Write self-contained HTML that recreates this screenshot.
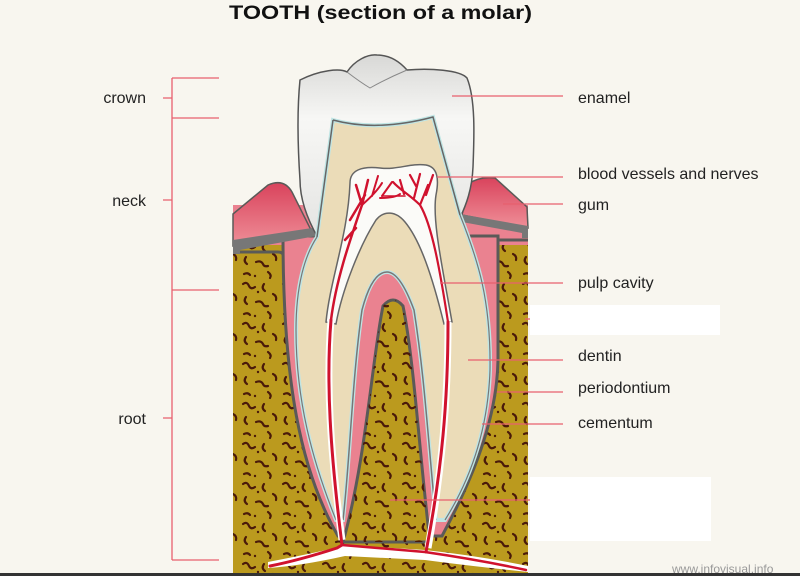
<!DOCTYPE html>
<html><head><meta charset="utf-8">
<style>
html,body{margin:0;padding:0;background:#f8f6ef;}
svg{display:block;}
text{font-family:"Liberation Sans",Arial,sans-serif;}
</style></head>
<body>
<svg width="800" height="576" viewBox="0 0 800 576" xmlns="http://www.w3.org/2000/svg">
<defs>
<pattern id="sq" x="0" y="0" width="40" height="40" patternUnits="userSpaceOnUse">
<g fill="none" stroke="#4a1a0a" stroke-width="2.2" stroke-linecap="round">
<path d="M3,4 q4,-3 6,2 q2,4 6,1"/>
<path d="M24,4 q-3,4 1,7"/>
<path d="M33,14 q4,2 3,6"/>
<path d="M6,17 q-3,4 1,7"/>
<path d="M16,22 q5,-2 7,2 q1,3 5,2"/>
<path d="M4,34 q4,-2 6,1"/>
<path d="M28,32 q4,3 2,6"/>
</g>
<circle cx="18" cy="12" r="1.2" fill="#4a1a0a"/>
<circle cx="15" cy="36" r="1.2" fill="#4a1a0a"/>
</pattern>
<linearGradient id="en" x1="0" y1="0" x2="0" y2="1">
<stop offset="0" stop-color="#d8d8d6"/><stop offset="0.35" stop-color="#f7f7f5"/><stop offset="1" stop-color="#e4e4e2"/>
</linearGradient>
<linearGradient id="gm" x1="0" y1="0" x2="0" y2="1">
<stop offset="0" stop-color="#d9435c"/><stop offset="1" stop-color="#ef8f98"/>
</linearGradient>
</defs>

<rect width="800" height="576" fill="#f8f6ef"/>

<text x="229" y="19" font-size="19" font-weight="bold" fill="#111" textLength="303" lengthAdjust="spacingAndGlyphs">TOOTH (section of a molar)</text>

<g stroke="#e8606e" stroke-width="1.3" fill="none">
<path d="M172,78 V560"/>
<path d="M172,78 H219 M172,118 H219 M172,290 H219 M172,560 H219"/>
<path d="M163,98 H172 M163,200 H172 M163,418 H172"/>
</g>
<text x="146" y="103" font-size="16" fill="#222" text-anchor="end">crown</text>
<text x="146" y="206" font-size="16" fill="#222" text-anchor="end">neck</text>
<text x="146" y="424" font-size="16" fill="#222" text-anchor="end">root</text>

<rect x="233" y="205" width="295" height="60" fill="#ea8290"/>
<rect x="233" y="245" width="295" height="330" fill="#bb9a1e"/>
<rect x="233" y="245" width="295" height="330" fill="url(#sq)"/>
<path d="M233,252 H278 Q284,252 284,258 M528,240 H490 Q484,240 484,246" fill="none" stroke="#5a5a58" stroke-width="3"/>
<path d="M283,236 C283,380 300,470 338,536 L442,536 C472,480 497,420 498,360 L498,236 Z" fill="#ea8290" stroke="#5a5a58" stroke-width="3"/>
<path d="M343,542 C366,460 372,360 383,306 Q393,294 403,306 C414,360 420,460 430,542 Z" fill="#bb9a1e" stroke="#5a5a58" stroke-width="3"/>
<path d="M343,542 C366,460 372,360 383,306 Q393,294 403,306 C414,360 420,460 430,542 Z" fill="url(#sq)"/>

<path d="M233,214 L268,185 Q284,178 292,192 L312,232 L233,246 Z" fill="url(#gm)" stroke="#5a5a58" stroke-width="1.5"/>
<path d="M233,240 L312,228 L316,236 L240,250 L240,254 L233,254 Z" fill="#777" />
<path d="M462,215 L468,184 Q480,176 495,178 L527,207 L528,228 Z" fill="url(#gm)" stroke="#5a5a58" stroke-width="1.5"/>
<path d="M460,214 L528,226 L528,238 L522,238 L522,233 L462,222 Z" fill="#777"/>

<path d="M300,80 C320,70 340,68 347,72 C355,60 368,54 377,55 C390,55 400,62 407,70 C430,68 460,70 467,78 C476,100 474,140 473,167 C472,190 466,205 460,218 L318,238 C305,215 300,195 300,180 C298,150 297,110 300,80 Z" fill="url(#en)" stroke="#555" stroke-width="1.5"/>
<path d="M347,72 Q360,82 370,88 Q388,78 407,70" fill="none" stroke="#888" stroke-width="1"/>

<path d="M333,120 Q377,132 433,117 L460,215 C478,260 491,300 490,370 C488,430 470,480 445,520 L436,520 C428,440 425,380 414,310 Q400,272 387,272 Q372,272 362,310 C352,380 350,460 343,520 L336,520 C312,460 296,400 296,330 C296,285 305,255 317,237 Z" fill="#ebdcb8" stroke="#bfe5e4" stroke-width="4"/>
<path d="M333,120 Q377,132 433,117 L460,215 M317,237 L333,120" fill="none" stroke="#666" stroke-width="1.5"/>
<path d="M336,520 C312,460 296,400 296,330 C296,285 305,255 317,237 M460,215 C478,260 491,300 490,370 C488,430 470,480 445,520" fill="none" stroke="#777" stroke-width="1.2"/>
<path d="M343,520 C350,460 352,380 362,310 Q372,272 387,272 Q400,272 414,310 C425,380 428,440 436,520" fill="none" stroke="#777" stroke-width="1.5"/>

<path d="M350,183 C350,170 362,166 380,168 C398,170 410,163 426,165 C438,167 439,180 436,195 C432,220 442,265 452,322 L444,324 C432,275 420,240 405,222 C396,211 384,210 376,220 C360,245 342,290 336,324 L326,322 C330,280 348,235 350,183 Z" fill="#fbfbf8" stroke="#666" stroke-width="1.5"/>
<path d="M331,320 C326,380 330,450 342,540" fill="none" stroke="#fff" stroke-width="7"/>
<path d="M448,322 C448,400 442,470 428,548" fill="none" stroke="#fff" stroke-width="7"/>
<path d="M268,562 Q330,550 345,545 L425,550 Q480,556 528,566 L528,572 Q470,566 425,560 L345,556 Q300,566 268,568 Z" fill="#fff"/>

<g fill="none" stroke="#d0122e" stroke-linecap="round">
<path d="M331,320 C326,380 330,450 342,545 L337,548 Q300,560 270,566" stroke-width="3"/>
<path d="M342,545 L425,552 Q480,560 526,570" stroke-width="2.5"/>
<path d="M448,322 C448,400 442,470 426,552" stroke-width="3"/>
<path d="M331,320 C336,280 350,240 362,205 L368,180 M362,205 L356,185 M350,220 L365,195 M345,240 L356,228" stroke-width="2.5"/>
<path d="M362,205 C370,198 378,190 382,183 M372,196 L378,176 M382,196 L392,182 M380,198 Q395,198 400,194" stroke-width="2"/>
<path d="M448,322 C440,270 432,225 420,205 C410,195 400,190 393,182 M420,205 L428,185 M414,198 L420,174 M426,195 L433,175 M404,194 L400,180 M416,186 L410,175" stroke-width="2.2"/>
<path d="M405,196 L383,196" stroke-width="1.6"/>
</g>

<g stroke="#e8606e" stroke-width="1.3" fill="none">
<path d="M452,96 H563"/>
<path d="M437,177 H563"/>
<path d="M503,204 H563"/>
<path d="M440,283 H563"/>
<path d="M525,319 H540"/>
<path d="M468,360 H563"/>
<path d="M497,392 H563"/>
<path d="M482,424 H563"/>
<path d="M390,500 H540"/>
</g>
<rect x="530" y="305" width="190" height="30" fill="#fff"/>
<rect x="530" y="477" width="181" height="64" fill="#fff"/>

<g font-size="16" fill="#222">
<text x="578" y="103">enamel</text>
<text x="578" y="179">blood vessels and nerves</text>
<text x="578" y="210">gum</text>
<text x="578" y="288">pulp cavity</text>
<text x="578" y="361">dentin</text>
<text x="578" y="393">periodontium</text>
<text x="578" y="428">cementum</text>
</g>
<text x="672" y="573" font-size="12" fill="#999">www.infovisual.info</text>
<rect x="0" y="573" width="800" height="3" fill="#333"/>
</svg>
</body></html>
